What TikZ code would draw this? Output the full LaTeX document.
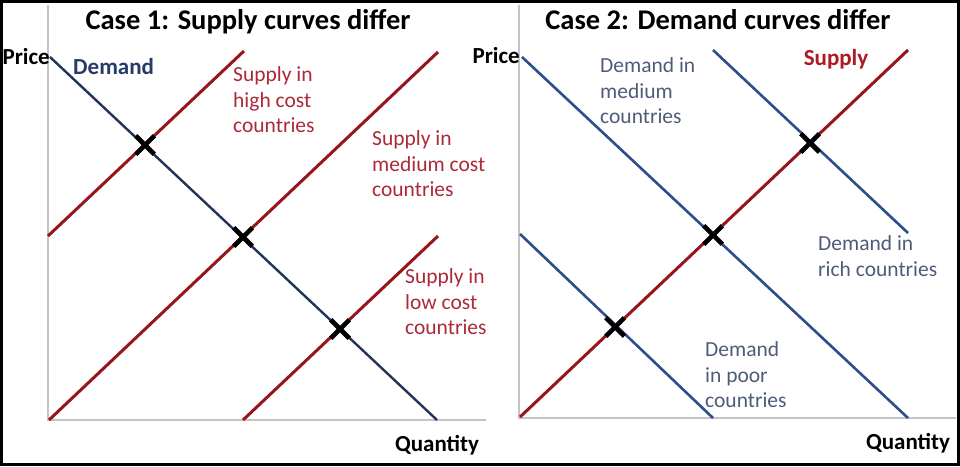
\documentclass[tikz,border=0pt]{standalone}
\usepackage{fontspec}
\setmainfont{Carlito}
\usetikzlibrary{shapes.misc}
\definecolor{supplyred}{RGB}{150,22,28}
\definecolor{navyline}{RGB}{33,52,88}
\definecolor{blueline}{RGB}{44,78,138}
\definecolor{labelred}{RGB}{172,42,56}
\definecolor{labelblue}{RGB}{78,92,122}
\definecolor{boldnavy}{RGB}{38,60,102}
\definecolor{boldred}{RGB}{172,26,36}
\definecolor{axisgray}{RGB}{196,196,196}
\tikzset{
  axisline/.style={draw=axisgray, line width=2pt},
  supplyline/.style={draw=supplyred, line width=3pt},
  demandleft/.style={draw=navyline, line width=2.4pt},
  demandright/.style={draw=blueline, line width=2.6pt},
  eqmark/.style={cross out, draw=black, line width=4.6pt, minimum size=14pt, inner sep=0pt},
  titletext/.style={font=\bfseries\fontsize{28.5}{31}\selectfont, text=black, inner sep=0pt},
  boldlabel/.style={font=\bfseries\fontsize{23}{26}\selectfont, inner sep=0pt},
  curvelabel/.style={font=\fontsize{21.5}{25.5}\selectfont, align=left, inner sep=0pt, anchor=west},
}
\begin{document}
\begin{tikzpicture}[x=1pt, y=-1pt]
\useasboundingbox (0,0) rectangle (960,466);
\fill[white] (0,0) rectangle (960,466);
\draw[black, line width=3pt] (1.5,1.5) rectangle (958.5,464.5);

% ---------- Case 1 ----------
\coordinate (ay1) at (48,5);
\coordinate (o1) at (48,420);
\coordinate (ax1) at (486,420);
\draw[axisline] (ay1) -- (o1) -- (ax1);

\coordinate (d1s) at (50,57);
\coordinate (d1e) at (437,420);
\coordinate (sh1) at (48,236);
\coordinate (sh2) at (244,51);
\coordinate (sm1) at (49,420);
\coordinate (sm2) at (438,52);
\coordinate (sl1) at (243,420);
\coordinate (sl2) at (438,236);
\draw[supplyline] (sh1) -- (sh2);
\draw[supplyline] (sm1) -- (sm2);
\draw[supplyline] (sl1) -- (sl2);
\draw[demandleft] (d1s) -- (d1e);

\node[eqmark] (x1) at (145,145) {};
\node[eqmark] (x2) at (243,237) {};
\node[eqmark] (x3) at (340,329) {};

\node[titletext] (t1) at (248,22) {Case 1: Supply curves differ};
\node[boldlabel, anchor=east] (p1) at (50,57) {Price};
\node[boldlabel, text=boldnavy, anchor=west] (dl1) at (73,67) {Demand};
\node[curvelabel, text=labelred] (lh) at (233,100) {Supply in\\high cost\\countries};
\node[curvelabel, text=labelred] (lm) at (372,164) {Supply in\\medium cost\\countries};
\node[curvelabel, text=labelred] (ll) at (405,302) {Supply in\\low cost\\countries};
\node[boldlabel] (q1) at (437,445) {Quantity};

% ---------- Case 2 ----------
\coordinate (ay2) at (519,5);
\coordinate (o2) at (519,418);
\coordinate (ax2) at (956,418);
\draw[axisline] (ay2) -- (o2) -- (ax2);

\coordinate (s2a) at (520,417);
\coordinate (s2b) at (908,50);
\coordinate (dm1) at (522,57);
\coordinate (dm2) at (908,418);
\coordinate (dr1) at (713,50);
\coordinate (dr2) at (908,233);
\coordinate (dp1) at (520,234);
\coordinate (dp2) at (713,418);
\draw[supplyline] (s2a) -- (s2b);
\draw[demandright] (dm1) -- (dm2);
\draw[demandright] (dr1) -- (dr2);
\draw[demandright] (dp1) -- (dp2);

\node[eqmark] (y1) at (615,327) {};
\node[eqmark] (y2) at (713,235) {};
\node[eqmark] (y3) at (810,143) {};

\node[titletext] (t2) at (718,20) {Case 2: Demand curves differ};
\node[boldlabel, anchor=east] (p2) at (520,56) {Price};
\node[boldlabel, text=boldred] (sl) at (836,59) {Supply};
\node[curvelabel, text=labelblue] (lmd) at (600,91) {Demand in\\medium\\countries};
\node[curvelabel, text=labelblue] (lrd) at (818,256) {Demand in\\rich countries};
\node[curvelabel, text=labelblue] (lpd) at (705,375) {Demand\\in poor\\countries};
\node[boldlabel] (q2) at (908,443) {Quantity};
\end{tikzpicture}
\end{document}
